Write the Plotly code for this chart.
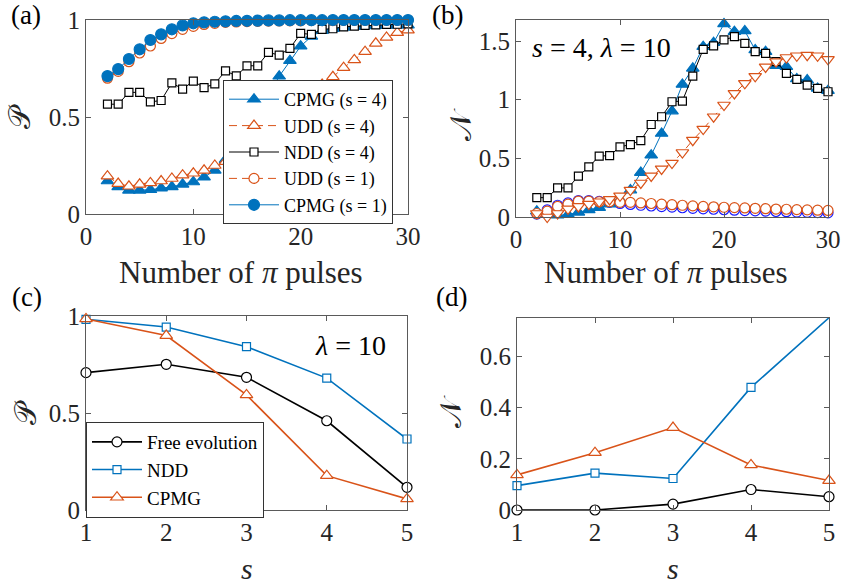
import plotly.graph_objects as go

# ---------------- data ----------------
pulses = list(range(2, 31))

# (a) purity vs number of pi pulses
a_cpmg_s4 = [0.17, 0.14, 0.122, 0.122, 0.125, 0.133, 0.14, 0.153, 0.165, 0.19, 0.225, 0.28, 0.35,
             0.43, 0.52, 0.61, 0.71, 0.79, 0.865, 0.915, 0.945, 0.955, 0.962, 0.966, 0.969, 0.971,
             0.972, 0.973, 0.974]
a_udd_s4 = [0.195, 0.157, 0.143, 0.153, 0.16, 0.17, 0.183, 0.2, 0.21, 0.225, 0.25, 0.27, 0.30, 0.33,
            0.37, 0.41, 0.46, 0.51, 0.56, 0.61, 0.668, 0.707, 0.754, 0.794, 0.837, 0.88, 0.91, 0.935,
            0.948]
a_ndd_s4 = [0.566, 0.566, 0.627, 0.627, 0.578, 0.585, 0.676, 0.644, 0.685, 0.651, 0.671, 0.738, 0.712,
            0.764, 0.764, 0.833, 0.819, 0.854, 0.931, 0.926, 0.952, 0.955, 0.965, 0.968, 0.972, 0.975,
            0.977, 0.978, 0.98]
a_udd_s1 = [0.70, 0.735, 0.785, 0.83, 0.866, 0.905, 0.93, 0.952, 0.967, 0.977, 0.983, 0.988, 0.99,
            0.992, 0.993, 0.994, 0.995, 0.996, 0.996, 0.997, 0.997, 0.997, 0.998, 0.998, 0.998, 0.998,
            0.998, 0.998, 0.998]
a_cpmg_s1 = [0.711, 0.747, 0.799, 0.849, 0.897, 0.926, 0.952, 0.972, 0.983, 0.988, 0.991, 0.993, 0.995,
             0.996, 0.997, 0.998, 0.998, 0.999, 0.999, 0.999, 0.999, 1.0, 1.0, 1.0, 1.0, 1.0, 1.0, 1.0,
             1.0]

# (b) non-Markovianity vs number of pi pulses (s = 4, lambda = 10 unless noted)
b_ndd_s4 = [0.165, 0.165, 0.248, 0.248, 0.348, 0.427, 0.519, 0.524, 0.598, 0.618, 0.652, 0.789, 0.855,
            0.983, 0.989, 1.202, 1.43, 1.459, 1.51, 1.538, 1.481, 1.41, 1.396, 1.325, 1.225, 1.174,
            1.125, 1.097, 1.068]
b_cpmg_s4 = [0.05, 0.035, 0.015, 0.02, 0.04, 0.06, 0.08, 0.11, 0.15, 0.23, 0.379, 0.527, 0.712, 0.903,
             1.131, 1.268, 1.453, 1.487, 1.647, 1.581, 1.587, 1.425, 1.41, 1.29, 1.282, 1.177, 1.168,
             1.097, 1.077]
b_udd_s4 = [0.03, 0.0, 0.03, 0.07, 0.09, 0.11, 0.13, 0.15, 0.18, 0.23, 0.29, 0.35, 0.41, 0.46, 0.55,
            0.655, 0.75, 0.855, 0.955, 1.054, 1.14, 1.2, 1.28, 1.325, 1.36, 1.375, 1.38, 1.375, 1.345]
b_udd_s1 = [0.03, 0.05, 0.09, 0.11, 0.135, 0.135, 0.13, 0.13, 0.125, 0.125, 0.12, 0.115, 0.11, 0.105,
            0.1, 0.095, 0.09, 0.087, 0.083, 0.08, 0.077, 0.074, 0.071, 0.068, 0.066, 0.063, 0.061,
            0.058, 0.056]
b_cpmg_s1 = [0.025, 0.06, 0.1, 0.12, 0.14, 0.14, 0.133, 0.125, 0.115, 0.107, 0.1, 0.094, 0.089, 0.084,
             0.079, 0.074, 0.07, 0.066, 0.062, 0.058, 0.055, 0.052, 0.05, 0.047, 0.045, 0.042, 0.04,
             0.038, 0.036]

# (c), (d) versus s at lambda = 10
s_vals = [1, 2, 3, 4, 5]
c_free = [0.708, 0.751, 0.684, 0.46, 0.117]
c_ndd = [0.983, 0.943, 0.842, 0.68, 0.366]
c_cpmg = [0.985, 0.899, 0.593, 0.177, 0.057]
d_free = [0.0, 0.0, 0.023, 0.08, 0.052]
d_ndd = [0.095, 0.144, 0.123, 0.479, 0.751]
d_cpmg = [0.137, 0.224, 0.322, 0.176, 0.115]

# ---------------- style ----------------
W, H = 841, 585
BLUE = "#0072BD"
ORANGE = "#D95319"
PUREBLUE = "#1a1aff"
SERIF = "Liberation Serif, Times New Roman, serif"
AXC = "#5a5a5a"
TXT = "#262626"
DASH = "8px,5px"


def px_x(p):
    return p / W


def px_y(p):
    return 1 - p / H


fig = go.Figure()


def add(x, y, name, color, symbol, size, xa, ya, dash="solid", fill=None, lw=1.0,
        legend=None, show=False):
    fig.add_trace(go.Scatter(
        x=x, y=y, name=name, mode="lines+markers", xaxis=xa, yaxis=ya,
        line=dict(color=color, width=lw, dash=dash),
        marker=dict(symbol=symbol, size=size, color=fill if fill else color,
                    line=dict(color=color, width=1.2)),
        cliponaxis=False, showlegend=show, legend=legend,
    ))


# (a)
add(pulses, a_cpmg_s4, "CPMG (s = 4)", BLUE, "triangle-up", 11, "x", "y", show=True, legend="legend")
add(pulses, a_udd_s4, "UDD (s = 4)", ORANGE, "triangle-up", 11, "x", "y", dash=DASH,
    fill="white", show=True, legend="legend")
add(pulses, a_ndd_s4, "NDD (s = 4)", "black", "square", 8, "x", "y", fill="white", show=True,
    legend="legend")
add(pulses, a_udd_s1, "UDD (s = 1)", ORANGE, "circle", 10, "x", "y", dash=DASH, fill="white",
    show=True, legend="legend")
add(pulses, a_cpmg_s1, "CPMG (s = 1)", BLUE, "circle", 11, "x", "y", show=True, legend="legend")

# (b)
add(pulses, b_cpmg_s1, "CPMG (s = 1)", PUREBLUE, "circle", 10, "x2", "y2", fill="white")
add(pulses, b_cpmg_s4, "CPMG (s = 4)", BLUE, "triangle-up", 11, "x2", "y2")
add(pulses, b_ndd_s4, "NDD (s = 4)", "black", "square", 8, "x2", "y2", fill="white")
add(pulses, b_udd_s1, "UDD (s = 1)", ORANGE, "circle", 10, "x2", "y2", dash=DASH, fill="white")
add(pulses, b_udd_s4, "UDD (s = 4)", ORANGE, "triangle-down", 11, "x2", "y2", dash=DASH,
    fill="white")

# (c)
add(s_vals, c_free, "Free evolution", "black", "circle", 10, "x3", "y3", fill="white", lw=1.6,
    show=True, legend="legend2")
add(s_vals, c_ndd, "NDD", BLUE, "square", 8, "x3", "y3", fill="white", lw=1.6, show=True,
    legend="legend2")
add(s_vals, c_cpmg, "CPMG", ORANGE, "triangle-up", 11, "x3", "y3", fill="white", lw=1.6, show=True,
    legend="legend2")

# (d)
add(s_vals, d_free, "Free evolution", "black", "circle", 10, "x4", "y4", fill="white", lw=1.6)
add(s_vals, d_ndd, "NDD", BLUE, "square", 8, "x4", "y4", fill="white", lw=1.6)
add(s_vals, d_cpmg, "CPMG", ORANGE, "triangle-up", 11, "x4", "y4", fill="white", lw=1.6)


def axis(domain, rng, tickvals, anchor):
    return dict(
        domain=domain, range=rng, tickvals=tickvals, anchor=anchor,
        showline=True, linecolor=AXC, linewidth=1, mirror="ticks",
        ticks="inside", ticklen=5, tickcolor=AXC, showgrid=False, zeroline=False,
        automargin=False,
        tickfont=dict(family=SERIF, size=25, color=TXT),
    )


# panel boxes in pixels: (left, right, top, bottom)
box_a = (86, 408, 20, 214)
box_b = (516, 828, 20, 217)
box_c = (86, 407, 316, 510)
box_d = (517, 829, 318, 510)


def dom(b):
    return [px_x(b[0]), px_x(b[1])], [px_y(b[3]), px_y(b[2])]


xa, ya = dom(box_a)
xb, yb = dom(box_b)
xc, yc = dom(box_c)
xd, yd = dom(box_d)

fig.update_layout(
    width=W, height=H, margin=dict(l=0, r=0, t=0, b=0, autoexpand=False),
    paper_bgcolor="white", plot_bgcolor="white",
    font=dict(family=SERIF, color=TXT),
    xaxis=axis(xa, [0, 30], [0, 10, 20, 30], "y"),
    yaxis=axis(ya, [0, 1], [0, 0.5, 1], "x"),
    xaxis2=axis(xb, [0, 30], [0, 10, 20, 30], "y2"),
    yaxis2=axis(yb, [0, 1.68], [0, 0.5, 1, 1.5], "x2"),
    xaxis3=axis(xc, [1, 5], s_vals, "y3"),
    yaxis3=axis(yc, [0, 1], [0, 0.5, 1], "x3"),
    xaxis4=axis(xd, [1, 5], s_vals, "y4"),
    yaxis4=axis(yd, [0, 0.75], [0, 0.2, 0.4, 0.6], "x4"),
    legend=dict(x=px_x(223), y=px_y(80), xanchor="left", yanchor="top",
                bgcolor="white", bordercolor="#333", borderwidth=1, itemwidth=50,
                font=dict(family=SERIF, size=18, color="black"), tracegroupgap=0),
    legend2=dict(x=px_x(86), y=px_y(422), xanchor="left", yanchor="top",
                 bgcolor="white", bordercolor="#333", borderwidth=1, itemwidth=50,
                 font=dict(family=SERIF, size=19, color="black"), tracegroupgap=0),
)


def text(x, y, s, size, angle=0, color="black"):
    fig.add_annotation(x=px_x(x), y=px_y(y), xref="paper", yref="paper", text=s,
                       showarrow=False, textangle=angle,
                       font=dict(family=SERIF, size=size, color=color),
                       xanchor="center", yanchor="middle")


# panel labels
text(26, 15, "(a)", 27)
text(447, 15, "(b)", 27)
text(27, 297, "(c)", 27)
text(451, 297, "(d)", 27)

# axis titles
text(241, 272, "Number of <i>π</i> pulses", 31, color=TXT)
text(666, 272, "Number of <i>π</i> pulses", 31, color=TXT)
text(247, 568, "<i>s</i>", 30, color=TXT)
text(673, 568, "<i>s</i>", 30, color=TXT)
text(20, 117, "𝒫", 30, angle=-90, color=TXT)
text(460, 125, "𝒩", 30, angle=-90, color=TXT)
text(25, 413, "𝒫", 30, angle=-90, color=TXT)
text(450, 412, "𝒩", 30, angle=-90, color=TXT)

# in-panel annotations
text(601, 47, "<i>s</i> = 4, <i>λ</i> = 10", 28)
text(350, 345, "<i>λ</i> = 10", 28)

fig.write_html("out.html")
